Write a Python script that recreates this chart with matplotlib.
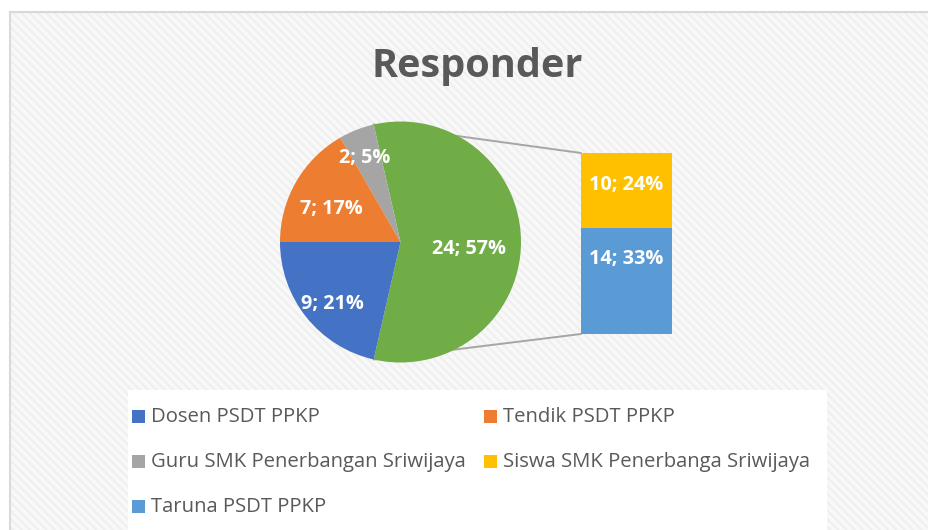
import matplotlib
matplotlib.use("Agg")
import matplotlib.pyplot as plt
from matplotlib.patches import Rectangle
from matplotlib.patches import ConnectionPatch
import numpy as np

# ---- data ----
title = "Responder"
pie_labels = ["Dosen PSDT PPKP", "Tendik PSDT PPKP", "Guru SMK Penerbangan Sriwijaya"]
pie_values = [9, 7, 2]
bar_labels = ["Siswa SMK Penerbanga Sriwijaya", "Taruna PSDT PPKP"]
bar_values = [10, 14]
total = sum(pie_values) + sum(bar_values)
other_value = sum(bar_values)

pie_colors = ["#4472C4", "#ED7D31", "#A5A5A5"]
other_color = "#70AD47"
bar_colors = ["#FFC000", "#5B9BD5"]

W, H = 929, 530
fig = plt.figure(figsize=(W / 100, H / 100), dpi=100)
fig.patch.set_facecolor("white")

def fx(px):
    return px / W

def fy(py):
    return 1 - py / H

FONT = "Open Sans"

# background chart area with subtle diagonal pattern
plt.rcParams["hatch.linewidth"] = 1.5
bg = Rectangle((fx(10), 0), 1 - fx(10) + 0.01, fy(12), transform=fig.transFigure,
               facecolor="#f8f8f8", edgecolor="#efefef", hatch="\\\\\\\\", lw=0, zorder=-3)
fig.patches.append(bg)
border = Rectangle((fx(10), -0.01), 1.0, fy(12) + 0.01, transform=fig.transFigure,
                   facecolor="none", edgecolor="#d9d9d9", lw=1.5, zorder=-2)
fig.patches.append(border)

# legend white box
lbox = Rectangle((fx(128), 0), fx(827) - fx(128), fy(390), transform=fig.transFigure,
                 facecolor="white", edgecolor="none", zorder=-2)
fig.patches.append(lbox)

# title
fig.text(fx(477), fy(66), title, ha="center", va="center", fontsize=28.5,
         fontweight="bold", color="#595959", family=FONT)

# ---- pie ----
cx, cy, r = 400.5, 242, 120.5
ax_pie = fig.add_axes([fx(cx - r), fy(cy + r), fx(2 * r), (2 * r) / H])
vals = [other_value] + pie_values[::-1]
cols = [other_color] + pie_colors[::-1]
start = 180 + pie_values[0] / total * 360  # other slice begins where Dosen ends
wedges, _ = ax_pie.pie(vals, colors=cols, startangle=start, counterclock=True,
                       wedgeprops=dict(linewidth=0))
ax_pie.set_xlim(-1, 1)
ax_pie.set_ylim(-1, 1)
ax_pie.set_aspect("equal")
ax_pie.axis("off")

label_vals = [other_value] + pie_values[::-1]
dist = [0.57, 0.77, 0.64, 0.75]
ang_off = [-4.2, 1.3, 2.9, 3.0]
dy = -2 / r
for w, v, d, ao in zip(wedges, label_vals, dist, ang_off):
    mid = np.deg2rad((w.theta1 + w.theta2) / 2 + ao)
    pct = round(v / total * 100)
    ax_pie.text(d * np.cos(mid), d * np.sin(mid) + dy, f"{v}; {pct}%", ha="center",
                va="center", color="white", fontsize=14.3, fontweight="bold", family=FONT)

# ---- bar ----
bx0, bx1, by0, by1 = 581, 672, 153, 334
ax_bar = fig.add_axes([fx(bx0), fy(by1), fx(bx1 - bx0), (by1 - by0) / H])
bottom = 0
seg = []
for v, c in zip(bar_values[::-1], bar_colors[::-1]):
    ax_bar.bar(0, v, bottom=bottom, width=1, color=c, linewidth=0)
    seg.append((bottom, v))
    bottom += v
ax_bar.set_xlim(-0.5, 0.5)
ax_bar.set_ylim(0, other_value)
ax_bar.axis("off")
label_frac = [0.71, 0.58]
for (b, v), fr in zip(seg, label_frac):
    pct = round(v / total * 100)
    ax_bar.text(0, b + fr * v, f"{v}; {pct}%", ha="center", va="center", color="white",
                fontsize=14.3, fontweight="bold", family=FONT)

# connector lines
w_other = wedges[0]
for ang, yb in [(w_other.theta2, other_value), (w_other.theta1, 0)]:
    a = np.deg2rad(ang)
    con = ConnectionPatch(xyA=(np.cos(a), np.sin(a)), coordsA=ax_pie.transData,
                          xyB=(-0.5, yb), coordsB=ax_bar.transData,
                          color="#a6a6a6", lw=1.4, zorder=-1)
    fig.add_artist(con)

# ---- legend ----
leg_labels = pie_labels + bar_labels
leg_colors = pie_colors + bar_colors
leg_pos = [(132, 416), (484, 416), (132, 461), (484, 461), (132, 506)]
sq = 13
for lab, col, (px, py) in zip(leg_labels, leg_colors, leg_pos):
    fig.patches.append(Rectangle((fx(px), fy(py + sq / 2)), sq / W, sq / H,
                                 transform=fig.transFigure, facecolor=col,
                                 edgecolor="none", zorder=2))
    fig.text(fx(px + 19), fy(py + 1), lab, ha="left", va="center", fontsize=14.6,
             color="#595959", family=FONT, zorder=3)

fig.savefig("out.png", dpi=100)
